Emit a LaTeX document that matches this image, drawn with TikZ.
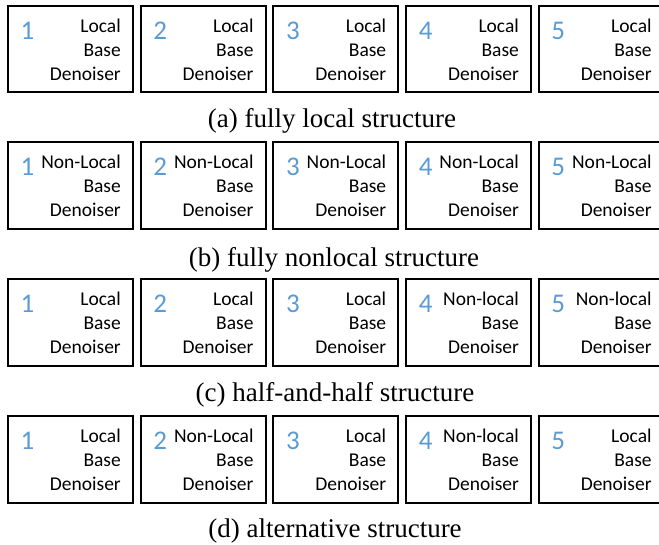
\documentclass[tikz,border=0pt]{standalone}
\usepackage{fontspec}
\setmainfont{Liberation Serif}
\newfontfamily\carlitofont{Carlito}
\usetikzlibrary{calc}
\definecolor{numblue}{RGB}{91,155,213}
\tikzset{
  boxst/.style={draw, line width=2pt, minimum width=125pt, minimum height=86.5pt, inner sep=0pt},
  numst/.style={anchor=base, inner sep=0pt, text height=17pt, text depth=0pt, text=numblue, font=\carlitofont\fontsize{27}{27}\selectfont},
  wordst/.style={anchor=base east, inner sep=0pt, text height=12pt, text depth=2pt, font=\carlitofont\fontsize{19.5}{19.5}\selectfont},
  capst/.style={anchor=base, inner sep=0pt, font=\fontsize{27}{27}\selectfont}
}
\newcommand{\dbox}[5]{%
  \node[boxst] (#1) at (#2+63.5, #3+44.25) {};
  \node[numst] (#1n) at ($(#1.north west)+(20.5,34.5)$) {#4};
  \node[wordst] (#1w) at ($(#1.north west)+(114,27.8)$) {#5};
  \node[wordst] (#1b) at ($(#1.north west)+(114,51.5)$) {Base};
  \node[wordst] (#1d) at ($(#1.north west)+(114,75.3)$) {Denoiser};
}
\begin{document}
\begin{tikzpicture}[x=1pt, y=-1pt]
\useasboundingbox (0,0) rectangle (659,544);
\clip (0,0) rectangle (659,544);
% row a
\dbox{a1}{7}{4.7}{1}{Local}
\dbox{a2}{139.7}{4.7}{2}{Local}
\dbox{a3}{272.4}{4.7}{3}{Local}
\dbox{a4}{405.1}{4.7}{4}{Local}
\dbox{a5}{537.8}{4.7}{5}{Local}
\node[capst] (capa) at (332,127.5) {(a) fully local structure};
% row b
\dbox{b1}{7}{141}{1}{Non-Local}
\dbox{b2}{139.7}{141}{2}{Non-Local}
\dbox{b3}{272.4}{141}{3}{Non-Local}
\dbox{b4}{405.1}{141}{4}{Non-Local}
\dbox{b5}{537.8}{141}{5}{Non-Local}
\node[capst] (capb) at (334,266.5) {(b) fully nonlocal structure};
% row c
\dbox{c1}{7}{278}{1}{Local}
\dbox{c2}{139.7}{278}{2}{Local}
\dbox{c3}{272.4}{278}{3}{Local}
\dbox{c4}{405.1}{278}{4}{Non-local}
\dbox{c5}{537.8}{278}{5}{Non-local}
\node[capst] (capc) at (335,401.5) {(c) half-and-half structure};
% row d
\dbox{d1}{7}{415}{1}{Local}
\dbox{d2}{139.7}{415}{2}{Non-Local}
\dbox{d3}{272.4}{415}{3}{Local}
\dbox{d4}{405.1}{415}{4}{Non-local}
\dbox{d5}{537.8}{415}{5}{Local}
\node[capst] (capd) at (335,537) {(d) alternative structure};
\end{tikzpicture}
\end{document}
